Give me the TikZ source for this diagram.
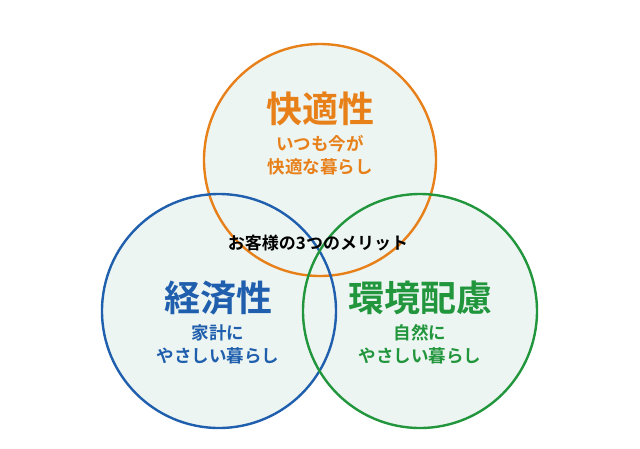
\documentclass[tikz,border=0pt]{standalone}
\usepackage{fontspec}
\newfontfamily\jp{Noto Sans CJK JP}[BoldFont={Noto Sans CJK JP Bold}]
\definecolor{cO}{HTML}{E8801A}
\definecolor{cB}{HTML}{1F5FAD}
\definecolor{cG}{HTML}{22963C}
\definecolor{cF}{HTML}{EDF5F3}
\begin{document}
\begin{tikzpicture}[x=1pt,y=-1pt,
  ring/.style={line width=2.4pt},
  ttl/.style={font=\jp\bfseries\fontsize{36}{40}\selectfont},
  sub/.style={font=\jp\bfseries\fontsize{17.5}{23}\selectfont, align=center}]
\useasboundingbox (0,0) rectangle (640,448);
\fill[cF] (320,160) circle (116) (219,311) circle (117) (420,311) circle (117);
\draw[ring,cO] (320,160) circle (116);
\draw[ring,cB] (219,311) circle (117);
\draw[ring,cG] (420,311) circle (117);
\node[ttl,text=cO] (t1) at (320,109) {快適性};
\node[sub,text=cO] (s1) at (320,155) {いつも今が\\快適な暮らし};
\node[font=\jp\bfseries\fontsize{17}{20}\selectfont] (m) at (318,243) {お客様の3つのメリット};
\node[ttl,text=cB] (t2) at (218,298) {経済性};
\node[sub,text=cB] (s2) at (218,344) {家計に\\やさしい暮らし};
\node[ttl,text=cG] (t3) at (420,298) {環境配慮};
\node[sub,text=cG] (s3) at (420,344) {自然に\\やさしい暮らし};
\end{tikzpicture}
\end{document}
